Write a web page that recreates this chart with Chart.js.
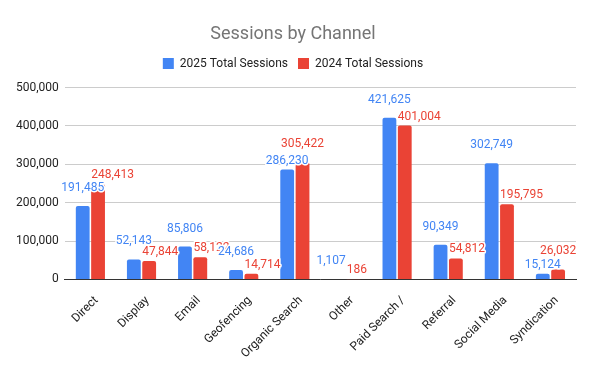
<!DOCTYPE html>
<html>
<head>
<meta charset="utf-8">
<script src="https://cdn.jsdelivr.net/npm/chart.js@4"></script>
<style>
  html, body { margin: 0; padding: 0; background: #fff; }
  #wrap { width: 598px; height: 371px; }
</style>
</head>
<body>
<div id="wrap"><canvas id="chart"></canvas></div>
<script>
// 渠道分类
const channels = ['Direct', 'Display', 'Email', 'Geofencing', 'Organic Search', 'Other', 'Paid Search /', 'Referral', 'Social Media', 'Syndication'];
// 会话数
const sessions2025 = [191485, 52143, 85806, 24686, 286230, 1107, 421625, 90349, 302749, 15124];
const sessions2024 = [248413, 47844, 58122, 14714, 305422, 186, 401004, 54812, 195795, 26032];
// 纵轴刻度
const yTicks = [0, 100000, 200000, 300000, 400000, 500000];

const BLUE = '#4285F4';
const RED = '#EA4335';
const FONT = 'Roboto, Arial, sans-serif';

// 图例下方留出额外空间
const legendGap = {
    id: 'legendGap',
    beforeInit(chart) {
        const fit = chart.legend.fit;
        chart.legend.fit = function() {
            fit.bind(chart.legend)();
            this.height += 8;
        };
    }
};

// 柱顶数值标签（简单避让）
const valueLabels = {
    id: 'valueLabels',
    afterDatasetsDraw(chart) {
        const ctx = chart.ctx;
        ctx.save();
        ctx.font = '12px ' + FONT;
        ctx.textBaseline = 'middle';
        ctx.lineJoin = 'round';
        const blueMeta = chart.getDatasetMeta(0);
        const redMeta = chart.getDatasetMeta(1);
        channels.forEach((c, i) => {
            const b = blueMeta.data[i];
            const r = redMeta.data[i];
            const bText = sessions2025[i].toLocaleString('en-US');
            const rText = sessions2024[i].toLocaleString('en-US');
            const bw = ctx.measureText(bText).width;
            const rw = ctx.measureText(rText).width;

            let bY = b.y - 18;
            let rY = r.y - 9;
            let rX = r.x - r.width / 2 + rw / 2;
            // 红柱略高时交换上下位置
            if (r.y < b.y && b.y - r.y < 20) {
                bY = b.y - 9;
                rY = r.y - 18;
                rX = r.x;
            }
            let bX = b.x;
            // 标签重叠时蓝色标签左移
            if (Math.abs(bY - rY) < 10 && bX + bw / 2 > rX - rw / 2) {
                bX = rX - rw / 2 - 1 - bw / 2;
            }
            draw(bText, bX, bY, BLUE);
            draw(rText, rX, rY, RED);
        });
        function draw(text, x, y, color) {
            ctx.textAlign = 'center';
            ctx.strokeStyle = '#fff';
            ctx.lineWidth = 3;
            ctx.strokeText(text, x, y);
            ctx.fillStyle = color;
            ctx.fillText(text, x, y);
        }
        ctx.restore();
    }
};

new Chart(document.getElementById('chart'), {
    type: 'bar',
    data: {
        labels: channels,
        datasets: [
            {
                label: '2025 Total Sessions',
                data: sessions2025,
                backgroundColor: BLUE,
                borderRadius: { topLeft: 2, topRight: 2 },
                borderSkipped: 'bottom',
                categoryPercentage: 0.6,
                barPercentage: 0.9
            },
            {
                label: '2024 Total Sessions',
                data: sessions2024,
                backgroundColor: RED,
                borderRadius: { topLeft: 2, topRight: 2 },
                borderSkipped: 'bottom',
                categoryPercentage: 0.6,
                barPercentage: 0.9
            }
        ]
    },
    options: {
        responsive: true,
        maintainAspectRatio: false,
        animation: false,
        layout: { padding: { left: 10, right: 22, top: 10, bottom: 4 } },
        plugins: {
            title: {
                display: true,
                text: 'Sessions by Channel',
                color: '#757575',
                font: { family: FONT, size: 18, weight: 'normal' },
                padding: { top: 14, bottom: 2 }
            },
            legend: {
                position: 'top',
                labels: {
                    color: '#222',
                    font: { family: FONT, size: 12 },
                    boxWidth: 11,
                    boxHeight: 11,
                    padding: 10
                }
            },
            tooltip: { enabled: false }
        },
        scales: {
            x: {
                grid: { display: false },
                border: { color: '#333' },
                ticks: {
                    color: '#222',
                    font: { family: FONT, size: 12 },
                    minRotation: 45,
                    maxRotation: 45,
                    autoSkip: false,
                    padding: 6,
                    labelOffset: 6
                }
            },
            y: {
                min: 0,
                max: 500000,
                afterBuildTicks(axis) {
                    axis.ticks = yTicks.map(v => ({ value: v }));
                },
                grid: { color: '#cccccc', drawTicks: false },
                border: { display: false },
                ticks: {
                    color: '#222',
                    padding: 6,
                    font: { family: FONT, size: 12 },
                    callback: v => v.toLocaleString('en-US')
                }
            }
        }
    },
    plugins: [legendGap, valueLabels]
});
</script>
</body>
</html>
